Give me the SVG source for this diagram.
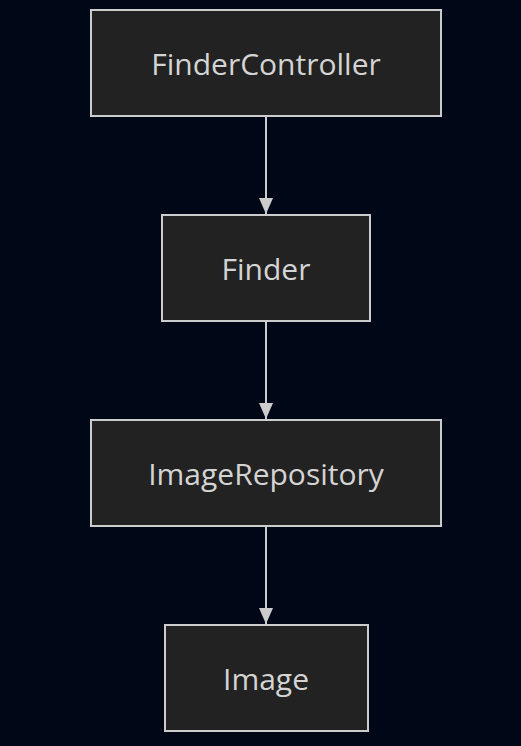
<svg xmlns="http://www.w3.org/2000/svg" width="521" height="746" viewBox="0 0 521 746">
<defs>
<style>
.node rect{fill:#222222;stroke:#cccccc;stroke-width:2}
.node text{fill:#d4d4d4;font-family:"Open Sans","DejaVu Sans",sans-serif;font-size:30px;text-anchor:middle;dominant-baseline:central}
.edge{stroke:#cccccc;stroke-width:2;fill:none;marker-end:url(#arr)}
</style>
<marker id="arr" viewBox="0 0 16 14" refX="16" refY="7" markerWidth="16" markerHeight="14" markerUnits="userSpaceOnUse" orient="auto">
<path d="M0,0 L16,7 L0,14 z" fill="#cccccc"/>
</marker>
</defs>
<rect width="521" height="746" fill="#000818"/>
<g id="connectors">
<line class="edge" x1="266" y1="117" x2="266" y2="214"/>
<line class="edge" x1="266" y1="322" x2="266" y2="419"/>
<line class="edge" x1="266" y1="527" x2="266" y2="624"/>
</g>
<g id="FinderController" class="node"><rect x="91" y="10" width="350" height="106"/><text x="266" y="63">FinderController</text></g>
<g id="Finder" class="node"><rect x="162" y="215" width="208" height="106"/><text x="266" y="268">Finder</text></g>
<g id="ImageRepository" class="node"><rect x="91" y="420" width="350" height="106"/><text x="266" y="473">ImageRepository</text></g>
<g id="Image" class="node"><rect x="165" y="625" width="203" height="106"/><text x="266" y="678">Image</text></g>
</svg>
